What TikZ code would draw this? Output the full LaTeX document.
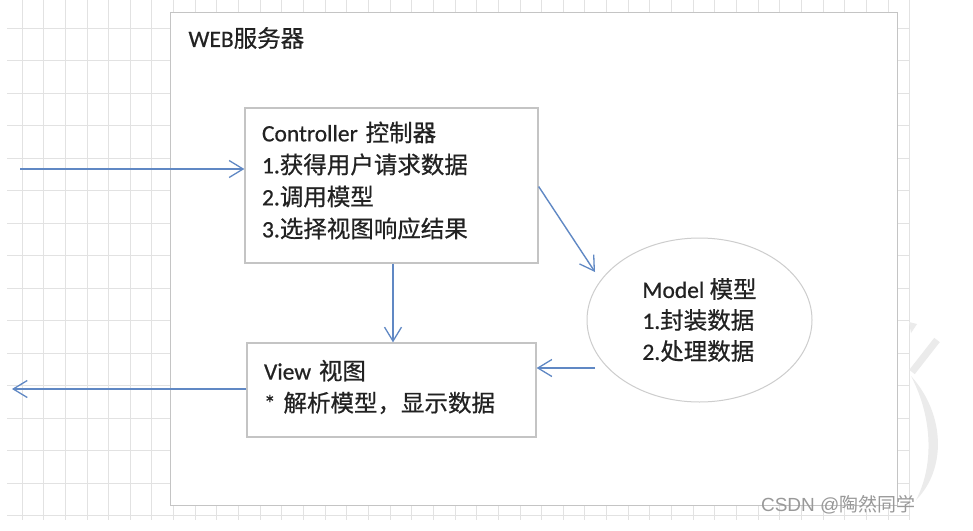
\documentclass[tikz,border=0pt]{standalone}
\usepackage{fontspec}
\setmainfont{Carlito}[FakeBold=0.6]
\newfontfamily\zh{Noto Sans CJK SC}[FakeBold=0.6]
\newfontfamily\markfont{Liberation Sans}
\newfontfamily\markzh{Noto Sans CJK SC}
\usetikzlibrary{calc,positioning,shapes.geometric,arrows.meta}
\definecolor{gridgray}{RGB}{226,226,226}
\definecolor{boxgray}{RGB}{196,196,196}
\definecolor{flowblue}{RGB}{96,136,196}
\definecolor{inkgray}{RGB}{34,34,34}
\tikzset{
   grid line/.style={draw=gridgray, line width=0.9pt},
   server/.style={ rectangle, draw=boxgray, line width=1pt, fill=white, minimum width=727pt, minimum height=493pt, inner sep=0pt},
   part box/.style={ rectangle, draw=boxgray, line width=1.3pt, fill=white, inner sep=0pt},
   part text/.style={ align=left, inner sep=0pt, text=inkgray, font=\fontsize{23.5}{32}\selectfont},
   part oval/.style={ ellipse, draw=boxgray!85, line width=1pt, fill=white, align=left, inner sep=0pt, text=inkgray, font=\fontsize{23.5}{31}\selectfont},
   flow/.style={ draw=flowblue, line width=1.4pt, -{Straight Barb[length=14pt,width=17pt,line width=1.3pt]}},
   >=latex
}

\begin{document}
\begin{tikzpicture}[x=1pt,y=-1pt]
  \useasboundingbox (0,0) rectangle (973,530);
  \fill[white] (0,0) rectangle (973,530);

  % background grid
  \foreach \k in {0,...,41}
    \draw[grid line] (22+21.65*\k,0) -- (22+21.65*\k,520);
  \foreach \k in {0,...,15}
    \draw[grid line] (7,28+32.5*\k) -- (910,28+32.5*\k);

  % watermark stroke
  \fill[gray!16] (911,376) .. controls (946,415) and (946,470) .. (916,500)
                 .. controls (933,468) and (934,420) .. cycle;
  \draw[gray!16, line width=7pt] (912,372) -- (937,340);
  \fill[gray!16] (909,322) -- (917,324) -- (911,333) -- cycle;

  \node[server] at (533.5,258.5) (web) {};
  \node[anchor=west, text=inkgray, font=\fontsize{23.5}{26}\selectfont] at (185,38) (web title) {WEB{\zh 服务器}};

  \node[part box, minimum width=293pt, minimum height=155pt] at (391.5,185.5) (controller) {};
  \node[part text, text width=259pt] at (391.5,180.5) (controller text)
     {Controller {\zh 控制器}\\1.{\zh 获得用户请求数据}\\2.{\zh 调用模型}\\3.{\zh 选择视图响应结果}};
  \node[part box, minimum width=289pt, minimum height=94pt] at (391.5,390) (view) {};
  \node[part text, text width=255pt] at (391.5,387) (view text)
     {View {\zh 视图}\\{*} {\zh 解析模型，显示数据}};
  \node[part oval, minimum width=225pt, minimum height=164pt] at (699.5,320) (model)
     {Model {\zh 模型}\\1.{\zh 封装数据}\\2.{\zh 处理数据}};

  \coordinate (request) at (20,169);
  \coordinate (response) at (12,389);
  \coordinate (down) at (393,300);
  \coordinate (model in) at ($(model.center)+(-104.5,-48)$);
  \coordinate (model out) at ($(model.center)+(-104.5,48)$);

  \draw[flow] (request) -- (request -| controller.west);
  \draw[flow] (down |- controller.south) -- (down |- view.north);
  \draw[flow] ($(controller.east)+(0,1)$) -- (model in);
  \draw[flow] (model out) -- (model out -| view.east);
  \draw[flow] (response -| view.west) -- (response);

  \node[anchor=east, text=gray!80, font=\fontsize{19}{21}\selectfont] at (919,505) (mark) {\markfont CSDN @{\markzh 陶然同学}};
\end{tikzpicture}
\end{document}
